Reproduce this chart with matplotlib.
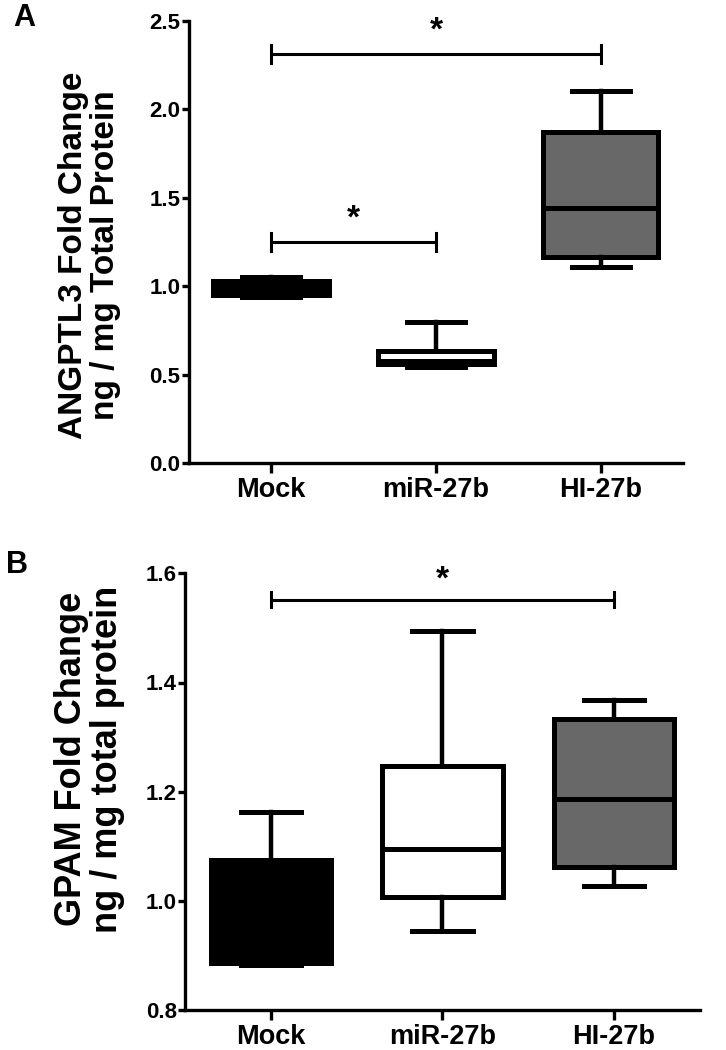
import matplotlib
matplotlib.use('Agg')
import matplotlib.pyplot as plt

plt.rcParams['font.family'] = ['Liberation Sans', 'DejaVu Sans']
plt.rcParams['font.weight'] = 'bold'

groups = ['Mock', 'miR-27b', 'HI-27b']
fills = ['black', 'white', '#686868']

# panel A: ANGPTL3 (min, q1, median, q3, max)
a_min = [0.94, 0.545, 1.11]
a_q1 = [0.95, 0.56, 1.165]
a_med = [0.98, 0.575, 1.44]
a_q3 = [1.03, 0.635, 1.87]
a_max = [1.055, 0.80, 2.105]
a_sig = [(0, 2, 2.315), (0, 1, 1.25)]

# panel B: GPAM
b_min = [0.882, 0.945, 1.028]
b_q1 = [0.887, 1.008, 1.062]
b_med = [0.95, 1.095, 1.186]
b_q3 = [1.075, 1.247, 1.333]
b_max = [1.163, 1.495, 1.368]
b_sig = [(0, 2, 1.552)]


def draw_panel(ax, mins, q1s, meds, q3s, maxs, sigs, ylim, yticks, ylabel, ysize, ylab_pos, sig_dy, tick_h):
    stats = []
    for i in range(len(groups)):
        stats.append({'whislo': mins[i], 'q1': q1s[i], 'med': meds[i],
                      'q3': q3s[i], 'whishi': maxs[i], 'fliers': []})
    bp = ax.bxp(stats, positions=range(len(groups)), widths=0.7, capwidths=0.35,
                patch_artist=True, showfliers=False,
                boxprops=dict(linewidth=3.6, edgecolor='black'),
                medianprops=dict(color='black', linewidth=3.6),
                whiskerprops=dict(color='black', linewidth=3.2),
                capprops=dict(color='black', linewidth=3.6))
    for patch, c in zip(bp['boxes'], fills):
        patch.set_facecolor(c)

    # significance brackets
    for x0, x1, y in sigs:
        ax.plot([x0, x1], [y, y], color='black', lw=2.2, solid_capstyle='butt')
        for xx in (x0, x1):
            ax.plot([xx, xx], [y - tick_h, y + tick_h], color='black', lw=2.2)
        ax.text((x0 + x1) / 2, y + sig_dy, '*', ha='center', va='center',
                fontsize=24, fontweight='bold')

    ax.set_xlim(-0.5, 2.5)
    ax.set_ylim(*ylim)
    ax.set_yticks(yticks)
    ax.set_yticklabels(['%.1f' % v for v in yticks], fontsize=16, fontweight='bold')
    ax.set_xticks(range(len(groups)))
    ax.set_xticklabels(groups, fontsize=19.5, fontweight='bold')
    for s in ('top', 'right'):
        ax.spines[s].set_visible(False)
    for s in ('left', 'bottom'):
        ax.spines[s].set_linewidth(2.4)
    ax.tick_params(axis='y', width=2.4, length=5, pad=1)
    ax.tick_params(axis='x', width=2.4, length=7, pad=3)
    ax.text(ylab_pos[0], ylab_pos[1], ylabel, rotation=90, ha='center', va='center',
            multialignment='center', fontsize=ysize, fontweight='bold',
            linespacing=1.05, transform=ax.transAxes)


fig = plt.figure(figsize=(7.26, 10.5), dpi=100)
axA = fig.add_axes([0.260, 0.559, 0.681, 0.421])
axB = fig.add_axes([0.255, 0.038, 0.709, 0.416])

draw_panel(axA, a_min, a_q1, a_med, a_q3, a_max, a_sig, (0, 2.5),
           [0.0, 0.5, 1.0, 1.5, 2.0, 2.5],
           'ANGPTL3 Fold Change\nng / mg Total Protein', 24, (-0.20, 0.47), 0.13, 0.05)
draw_panel(axB, b_min, b_q1, b_med, b_q3, b_max, b_sig, (0.8, 1.6),
           [0.8, 1.0, 1.2, 1.4, 1.6],
           'GPAM Fold Change\nng / mg total protein', 26, (-0.186, 0.575), 0.035, 0.014)

fig.text(0.033, 0.983, 'A', fontsize=22, fontweight='bold', ha='center', va='center')
fig.text(0.023, 0.462, 'B', fontsize=22, fontweight='bold', ha='center', va='center')

fig.savefig('out.png', dpi=100)
